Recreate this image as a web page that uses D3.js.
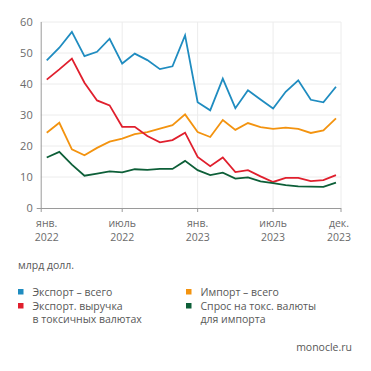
<!DOCTYPE html>
<html>
<head>
<meta charset="utf-8">
<script src="https://cdn.jsdelivr.net/npm/d3@7"></script>
<style>
  body { margin: 0; background: #fff; }
  svg { font-family: "Open Sans", sans-serif; }
  .grid line { stroke: #ececec; stroke-width: 1; }
  .tick-label { fill: #6b6b6b; font-size: 11px; }
  .x-label { fill: #6b6b6b; font-size: 10.5px; }
  .legend-text { fill: #585858; font-size: 10.5px; }
  .line { fill: none; stroke-width: 1.8; stroke-linejoin: miter; }
</style>
</head>
<body>
<div class="content"></div>
<script>
// monthly values, Jan 2022 .. Dec 2023, bn USD
const months = d3.range(24);
const exportTotal = [47.6, 51.7, 56.8, 49.0, 50.4, 54.6, 46.6, 49.8, 47.7, 44.8, 45.7, 55.7,
  34.1, 31.5, 41.7, 32.2, 38.0, 35.0, 32.1, 37.5, 41.2, 34.9, 34.1, 39.1];
const exportToxic = [41.4, 44.7, 48.2, 40.4, 34.7, 33.1, 26.2, 26.2, 23.2, 21.2, 21.9, 24.3,
  16.5, 13.5, 16.3, 11.6, 12.2, 10.2, 8.4, 9.7, 9.7, 8.7, 9.0, 10.6];
const importTotal = [24.3, 27.5, 18.9, 17.0, 19.4, 21.4, 22.4, 23.8, 24.5, 25.6, 26.7, 30.2,
  24.5, 22.9, 28.4, 25.2, 27.4, 26.1, 25.5, 25.9, 25.5, 24.2, 25.0, 28.9];
const importToxic = [16.3, 18.1, 14.0, 10.4, 11.1, 11.8, 11.5, 12.5, 12.3, 12.6, 12.6, 15.2,
  12.2, 10.6, 11.4, 9.5, 9.9, 8.6, 8.0, 7.4, 7.0, 6.9, 6.8, 8.2];

const yTicks = [0, 10, 20, 30, 40, 50, 60];
const xTicks = [
  { m: 0, l1: "янв.", l2: "2022" },
  { m: 6, l1: "июль", l2: "2022" },
  { m: 12, l1: "янв.", l2: "2023" },
  { m: 18, l1: "июль", l2: "2023" },
  { m: 23, l1: "дек.", l2: "2023" }
];

const series = [
  { name: ["Экспорт – всего"], values: exportTotal, color: "#1f8cc0" },
  { name: ["Импорт – всего"], values: importTotal, color: "#f3930f" },
  { name: ["Экспорт. выручка", "в токсичных валютах"], values: exportToxic, color: "#e01f2d" },
  { name: ["Спрос на токс. валюты", "для импорта"], values: importToxic, color: "#0d5f38" }
];

const W = 371, H = 371;
const plotLeft = 40.7, plotRight = 341;
const plotTop = 22, plotBottom = 208;

const svg = d3.select(".content").append("svg")
  .attr("width", W).attr("height", H);

const x = d3.scaleLinear().domain([-0.48, 23.4]).range([plotLeft, plotRight]);
const y = d3.scaleLinear().domain([0, 60]).range([plotBottom, plotTop]);

//--> grid
const grid = svg.append("g").attr("class", "grid");
grid.selectAll(".h").data(yTicks.filter(d => d > 0)).enter().append("line")
  .attr("x1", plotLeft).attr("x2", plotRight)
  .attr("y1", d => y(d)).attr("y2", d => y(d));
grid.selectAll(".v").data([6, 12, 18]).enter().append("line")
  .attr("x1", d => x(d)).attr("x2", d => x(d))
  .attr("y1", plotTop).attr("y2", plotBottom);
grid.append("line")
  .attr("x1", plotRight).attr("x2", plotRight)
  .attr("y1", plotTop).attr("y2", plotBottom);

//--> axes
svg.append("line")
  .attr("x1", plotLeft + 0.5).attr("x2", plotLeft + 0.5)
  .attr("y1", plotTop).attr("y2", plotBottom + 4)
  .attr("stroke", "#9a9a9a");
svg.append("line")
  .attr("x1", plotLeft - 4).attr("x2", plotRight)
  .attr("y1", plotBottom + 0.5).attr("y2", plotBottom + 0.5)
  .attr("stroke", "#9a9a9a");
svg.selectAll(".xtick").data([6, 12, 18]).enter().append("line")
  .attr("x1", d => x(d)).attr("x2", d => x(d))
  .attr("y1", plotBottom).attr("y2", plotBottom + 4)
  .attr("stroke", "#9a9a9a");
svg.append("line")
  .attr("x1", plotRight).attr("x2", plotRight)
  .attr("y1", plotBottom).attr("y2", plotBottom + 4)
  .attr("stroke", "#9a9a9a");

svg.selectAll(".ylab").data(yTicks).enter().append("text")
  .attr("class", "tick-label")
  .attr("x", plotLeft - 8)
  .attr("y", d => y(d))
  .attr("dy", "0.35em")
  .attr("text-anchor", "end")
  .text(d => d);

const xl = svg.selectAll(".xlab").data(xTicks).enter().append("g")
  .attr("transform", d => `translate(${d.m === 23 ? x(d.m) + 3 : x(d.m)}, 0)`);
xl.append("text").attr("class", "x-label")
  .attr("y", 227).attr("text-anchor", "middle").text(d => d.l1);
xl.append("text").attr("class", "x-label")
  .attr("y", 241).attr("text-anchor", "middle").text(d => d.l2);

//--> lines
const line = d3.line().x((d, i) => x(months[i])).y(d => y(d));
svg.selectAll(".line").data(series).enter().append("path")
  .attr("class", "line")
  .attr("stroke", d => d.color)
  .attr("d", d => line(d.values));

//--> units
svg.append("text").attr("class", "legend-text")
  .attr("x", 18).attr("y", 269).text("млрд долл.");

//--> legend
const legend = svg.selectAll(".leg").data(series).enter().append("g")
  .attr("transform", (d, i) => `translate(${i % 2 ? 186 : 18}, ${i < 2 ? 289 : 303})`);
legend.append("rect")
  .attr("width", 5.5).attr("height", 5.5)
  .attr("fill", d => d.color);
legend.selectAll("text").data(d => d.name).enter().append("text")
  .attr("class", "legend-text")
  .attr("x", 14.5)
  .attr("y", (d, i) => 6.5 + i * 13)
  .text(d => d);

svg.append("text").attr("class", "legend-text")
  .attr("x", 352).attr("y", 351).attr("text-anchor", "end")
  .text("monocle.ru");
</script>
</body>
</html>
